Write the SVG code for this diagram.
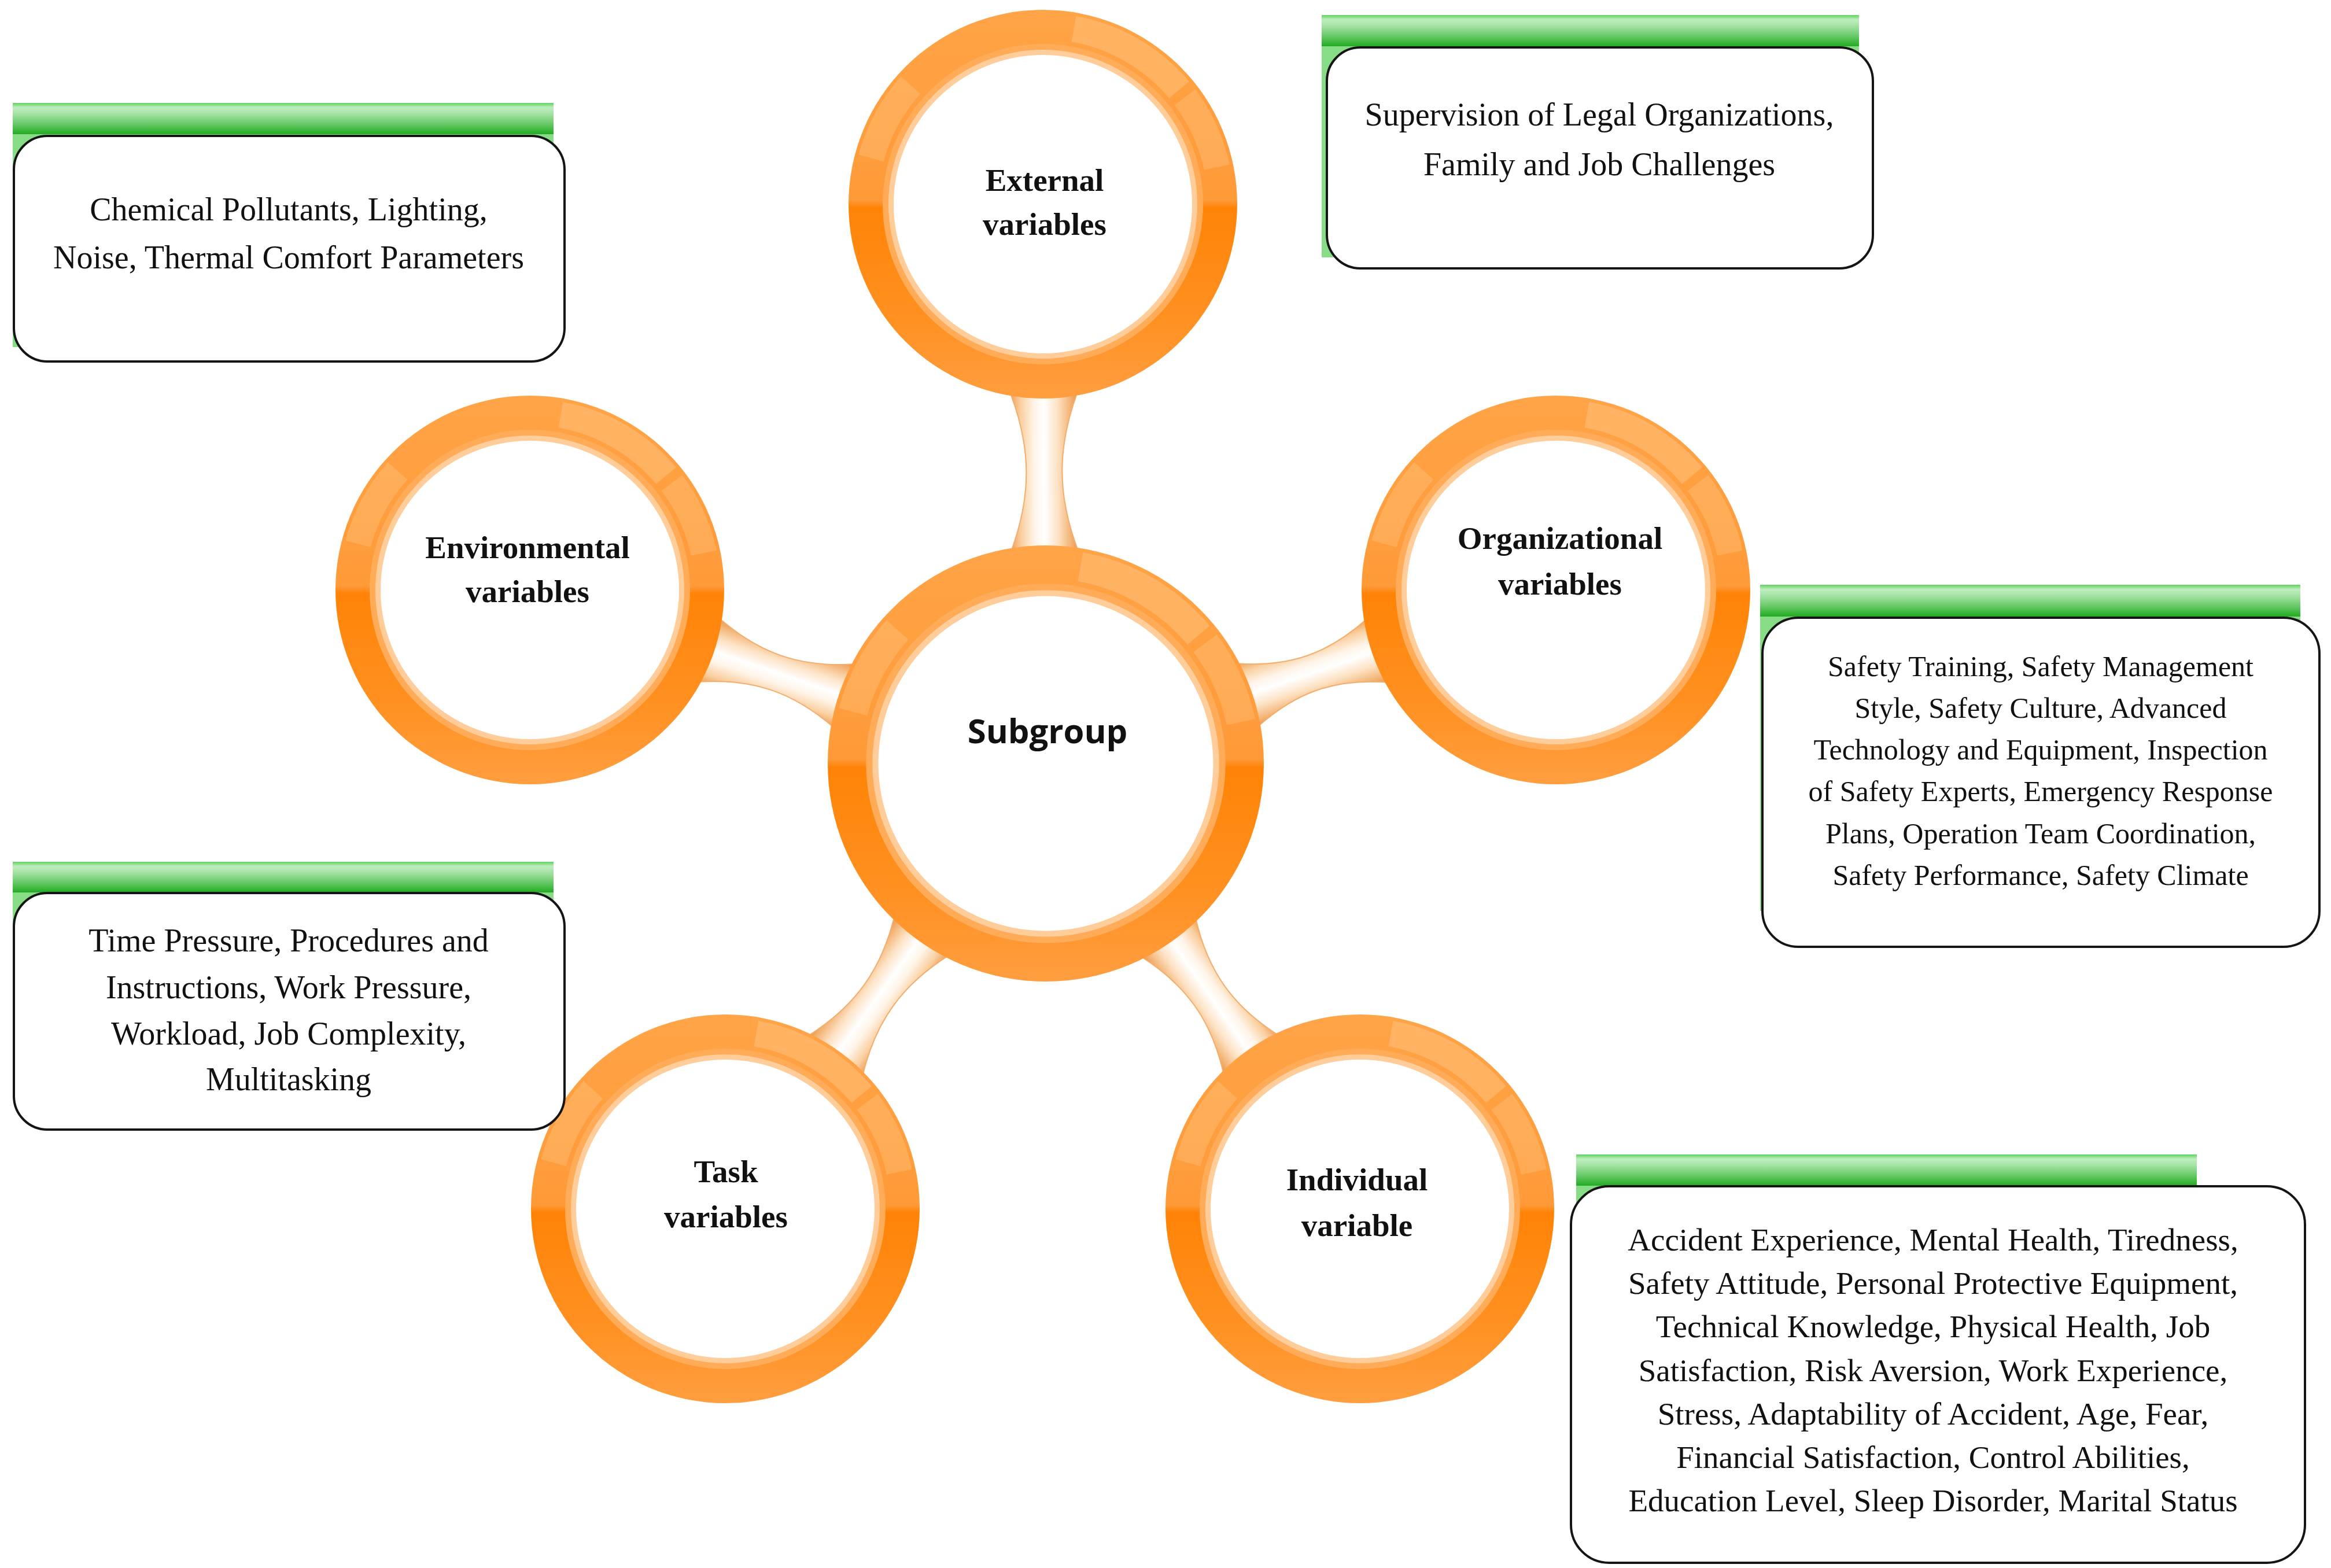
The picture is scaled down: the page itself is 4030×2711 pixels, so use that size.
<svg xmlns="http://www.w3.org/2000/svg" width="4030" height="2711" viewBox="0 0 4030 2711">
<style>
.box-text{font-family:"Liberation Serif","Times New Roman",serif;font-size:56px;fill:#111;text-anchor:middle}
.org-text{font-size:50px}
.ind-text{font-size:55px}
.node-label{font-family:"Liberation Serif","Times New Roman",serif;font-weight:bold;font-size:55px;fill:#111;text-anchor:middle}
.center-label{font-family:"Open Sans","DejaVu Sans",sans-serif;font-weight:700;font-size:58px;fill:#111;text-anchor:middle}
.card{fill:#fff;stroke:#151515;stroke-width:4}
.bar{fill:url(#barGrad)}
.bar-body{fill:#86dd86}
.neck{fill:url(#neckGrad);stroke:#f4ad6a;stroke-width:2}
</style>
<defs>
<linearGradient id="barGrad" x1="0" y1="0" x2="0" y2="1">
<stop offset="0" stop-color="#5fd35f"/>
<stop offset="0.15" stop-color="#bfeebf"/>
<stop offset="0.35" stop-color="#a3e2a3"/>
<stop offset="0.65" stop-color="#6ccb6c"/>
<stop offset="0.9" stop-color="#36b536"/>
<stop offset="1" stop-color="#26a926"/>
</linearGradient>
<linearGradient id="ringGrad" x1="0" y1="0" x2="0" y2="1">
<stop offset="0" stop-color="#ffa447"/>
<stop offset="0.49" stop-color="#ff9a38"/>
<stop offset="0.51" stop-color="#ff8306"/>
<stop offset="0.8" stop-color="#ff9122"/>
<stop offset="1" stop-color="#ff9e40"/>
</linearGradient>
<linearGradient id="neckGrad" x1="0" y1="0" x2="0" y2="1">
<stop offset="0" stop-color="#ef9f55"/>
<stop offset="0.15" stop-color="#f9cf9f"/>
<stop offset="0.35" stop-color="#fff4e8"/>
<stop offset="0.5" stop-color="#ffffff"/>
<stop offset="0.7" stop-color="#fde2c4"/>
<stop offset="0.9" stop-color="#f2b272"/>
<stop offset="1" stop-color="#e8964a"/>
</linearGradient>
<g id="ring">
<circle r="336" fill="url(#ringGrad)"/>
<path d="M 57.3,-325.0 A 330 330 0 0 1 252.8,-212.1 L 218.3,-183.2 A 285 285 0 0 0 49.5,-280.7 Z" fill="#ffc887" opacity="0.45"/>
<path d="M 263.5,-198.6 A 330 330 0 0 1 322.8,-68.6 L 278.8,-59.3 A 285 285 0 0 0 227.6,-171.5 Z" fill="#ffc887" opacity="0.35"/>
<path d="M -318.7,-85.4 A 330 330 0 0 1 -245.2,-220.8 L -211.8,-190.7 A 285 285 0 0 0 -275.3,-73.8 Z" fill="#ffc887" opacity="0.35"/>
<circle r="277" fill="#ffab58"/>
<circle r="267" fill="#ffcd9a"/>
<circle r="258" fill="#ffffff"/>
</g>
</defs>
<rect width="4030" height="2711" fill="#ffffff"/>

<g id="connectors">
<path class="neck" transform="translate(1808,1320) rotate(-90.3)" d="M 330,-58 L 367,-58 C 463,-22 545,-22 641,-58 L 671,-58 L 671,58 L 641,58 C 545,22 463,22 367,58 L 330,58 Z"/>
<path class="neck" transform="translate(1808,1320) rotate(-161.41)" d="M 330,-58 L 367,-58 C 454,-22 528,-22 615,-58 L 645,-58 L 645,58 L 615,58 C 528,22 454,22 367,58 L 330,58 Z"/>
<path class="neck" transform="translate(1808,1320) rotate(-18.78)" d="M 330,-58 L 367,-58 C 451,-22 522,-22 606,-58 L 636,-58 L 636,58 L 606,58 C 522,22 451,22 367,58 L 330,58 Z"/>
<path class="neck" transform="translate(1808,1320) rotate(125.77)" d="M 330,-58 L 367,-58 C 456,-22 533,-22 622,-58 L 652,-58 L 652,58 L 622,58 C 533,22 456,22 367,58 L 330,58 Z"/>
<path class="neck" transform="translate(1808,1320) rotate(54.81)" d="M 330,-58 L 367,-58 C 454,-22 529,-22 616,-58 L 646,-58 L 646,58 L 616,58 C 529,22 454,22 367,58 L 330,58 Z"/>
</g>

<g id="node-subgroup">
<use href="#ring" transform="translate(1808,1320) scale(1.122)"/>
<text class="center-label" x="1811" y="1285">Subgroup</text>
</g>

<g id="node-external">
<use href="#ring" transform="translate(1803,353)"/>
<text class="node-label" x="1806" y="330">External</text>
<text class="node-label" x="1806" y="406">variables</text>
</g>

<g id="node-environmental">
<use href="#ring" transform="translate(916,1020)"/>
<text class="node-label" x="912" y="965">Environmental</text>
<text class="node-label" x="912" y="1041">variables</text>
</g>

<g id="node-organizational">
<use href="#ring" transform="translate(2690,1020)"/>
<text class="node-label" x="2697" y="949">Organizational</text>
<text class="node-label" x="2697" y="1028">variables</text>
</g>

<g id="node-task">
<use href="#ring" transform="translate(1254,2090)"/>
<text class="node-label" x="1255" y="2044">Task</text>
<text class="node-label" x="1255" y="2122">variables</text>
</g>

<g id="node-individual">
<use href="#ring" transform="translate(2351,2090)"/>
<text class="node-label" x="2346" y="2058">Individual</text>
<text class="node-label" x="2346" y="2137">variable</text>
</g>

<g id="box-environmental">
<rect class="bar-body" x="22" y="220" width="935" height="380"/>
<rect class="bar" x="22" y="178" width="935" height="54"/>
<rect class="card" x="24" y="235" width="952" height="390" rx="58" ry="58"/>
<text class="box-text" x="499" y="381">Chemical Pollutants, Lighting,</text>
<text class="box-text" x="499" y="464">Noise, Thermal Comfort Parameters</text>
</g>

<g id="box-external">
<rect class="bar-body" x="2285" y="70" width="929" height="375"/>
<rect class="bar" x="2285" y="26" width="929" height="54"/>
<rect class="card" x="2294" y="82" width="944" height="382" rx="58" ry="58"/>
<text class="box-text" x="2765" y="217">Supervision of Legal Organizations,</text>
<text class="box-text" x="2765" y="303">Family and Job Challenges</text>
</g>

<g id="box-organizational">
<rect class="bar-body" x="3043" y="1055" width="934" height="520"/>
<rect class="bar" x="3043" y="1011" width="934" height="55"/>
<rect class="card" x="3047" y="1068" width="963" height="569" rx="62" ry="62"/>
<text class="box-text org-text" x="3528" y="1169">Safety Training, Safety Management</text>
<text class="box-text org-text" x="3528" y="1241">Style, Safety Culture, Advanced</text>
<text class="box-text org-text" x="3528" y="1313">Technology and Equipment, Inspection</text>
<text class="box-text org-text" x="3528" y="1385">of Safety Experts, Emergency Response</text>
<text class="box-text org-text" x="3528" y="1458">Plans, Operation Team Coordination,</text>
<text class="box-text org-text" x="3528" y="1530">Safety Performance, Safety Climate</text>
</g>

<g id="box-task">
<rect class="bar-body" x="22" y="1530" width="935" height="370"/>
<rect class="bar" x="22" y="1490" width="935" height="53"/>
<rect class="card" x="24" y="1544" width="952" height="409" rx="58" ry="58"/>
<text class="box-text" x="499" y="1645">Time Pressure, Procedures and</text>
<text class="box-text" x="499" y="1726">Instructions, Work Pressure,</text>
<text class="box-text" x="499" y="1806">Workload, Job Complexity,</text>
<text class="box-text" x="499" y="1885">Multitasking</text>
</g>

<g id="box-individual">
<rect class="bar-body" x="2725" y="2040" width="1073" height="560"/>
<rect class="bar" x="2725" y="1996" width="1073" height="54"/>
<rect class="card" x="2716" y="2051" width="1269" height="651" rx="66" ry="66"/>
<text class="box-text ind-text" x="3342" y="2162">Accident Experience, Mental Health, Tiredness,</text>
<text class="box-text ind-text" x="3342" y="2237">Safety Attitude, Personal Protective Equipment,</text>
<text class="box-text ind-text" x="3342" y="2312">Technical Knowledge, Physical Health, Job</text>
<text class="box-text ind-text" x="3342" y="2388">Satisfaction, Risk Aversion, Work Experience,</text>
<text class="box-text ind-text" x="3342" y="2463">Stress, Adaptability of Accident, Age, Fear,</text>
<text class="box-text ind-text" x="3342" y="2538">Financial Satisfaction, Control Abilities,</text>
<text class="box-text ind-text" x="3342" y="2613">Education Level, Sleep Disorder, Marital Status</text>
</g>
</svg>
